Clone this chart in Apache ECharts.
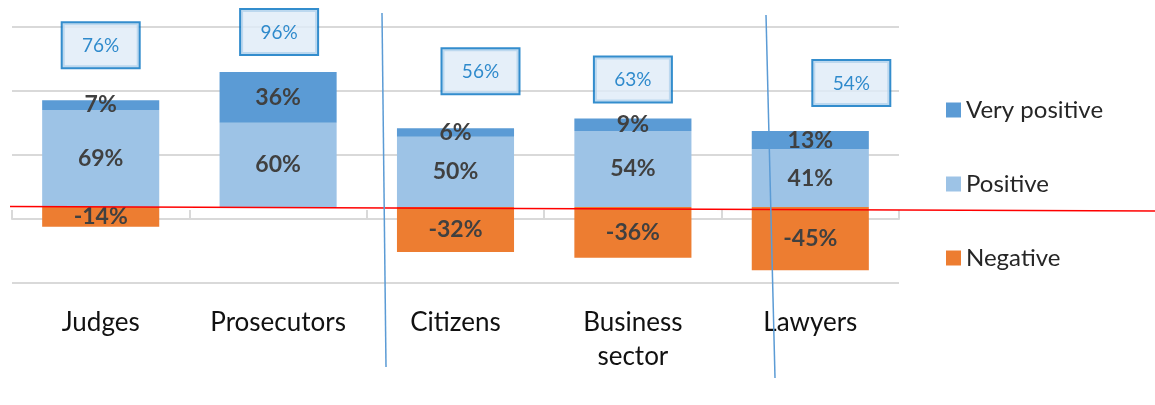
<!DOCTYPE html>
<html>
<head>
<meta charset="utf-8">
<script src="https://cdn.jsdelivr.net/npm/echarts@6/dist/echarts.min.js"></script>
<style>
  html, body { margin: 0; padding: 0; background: #fff; }
  #chart { width: 1155px; height: 405px; }
</style>
</head>
<body>
<div id="chart"></div>
<script>
// categories and values
var categories = ['Judges', 'Prosecutors', 'Citizens', 'Business\nsector', 'Lawyers'];
var veryPositive = [7, 36, 6, 9, 13];
var positive = [69, 60, 50, 54, 41];
var negative = [-14, 0, -32, -36, -45];
var totals = positive.map((v, i) => v + veryPositive[i]);

// where each boxed total sits relative to its bar top (hand-placed in the original)
var boxOffsets = [[0, -33], [1, -18], [25, -35], [0, -17], [41, -26]];

var FONT = 'Lato';
var chart = echarts.init(document.getElementById('chart'), null, { renderer: 'canvas' });

var barLabel = {
  show: true,
  position: 'inside',
  formatter: p => p.value === 0 ? '' : p.value + '%',
  fontFamily: FONT,
  fontSize: 23,
  fontWeight: 'bold',
  color: '#404040'
};

var option = {
  animation: false,
  grid: { left: 12, right: 256, top: 27, bottom: 122, containLabel: false, outerBoundsMode: 'none' },
  legend: {
    data: ['Very positive', 'Positive', 'Negative'],
    orient: 'vertical',
    left: 941,
    top: 93,
    icon: 'rect',
    itemWidth: 15,
    itemHeight: 15,
    itemGap: 50,
    textStyle: { fontFamily: FONT, fontSize: 24, color: '#262626' }
  },
  xAxis: {
    type: 'category',
    data: categories,
    axisLine: { onZero: true, onZeroAxisIndex: 1, lineStyle: { color: '#D9D9D9', width: 2 } },
    axisTick: { show: true, inside: true, length: 9, lineStyle: { color: '#D9D9D9', width: 2 } },
    axisLabel: {
      margin: 23,
      fontFamily: FONT,
      fontSize: 26,
      lineHeight: 34,
      color: '#111'
    }
  },
  yAxis: [
    { type: 'value', min: -54, max: 128, show: false, splitLine: { show: false } },
    {
      type: 'value', min: -1, max: 3, interval: 1, position: 'left',
      axisLabel: { show: false }, axisLine: { show: false }, axisTick: { show: false },
      splitLine: { show: true, lineStyle: { color: '#D9D9D9', width: 2 } }
    }
  ],
  series: [
    {
      name: 'Negative', type: 'bar', stack: 'tot', data: negative,
      barWidth: '66%', itemStyle: { color: '#ED7D31' }, label: barLabel
    },
    {
      name: 'Positive', type: 'bar', stack: 'tot', data: positive,
      barWidth: '66%', itemStyle: { color: '#9DC3E6' }, label: barLabel
    },
    {
      name: 'Very positive', type: 'bar', stack: 'tot', data: veryPositive,
      barWidth: '66%', itemStyle: { color: '#5B9BD5' }, label: barLabel
    },
    {
      name: 'Total', type: 'scatter', symbolSize: 0, z: 5, silent: true,
      data: totals.map((v, i) => ({ value: v, label: { offset: boxOffsets[i] } })),
      label: {
        show: true,
        position: 'top',
        distance: 0,
        formatter: '{c}%',
        fontFamily: FONT,
        fontSize: 19,
        lineHeight: 19,
        color: '#0070C0',
        backgroundColor: '#DEEBF7',
        borderColor: '#0070C0',
        borderWidth: 2,
        width: 76,
        align: 'center',
        padding: [13, 0, 12, 0],
        textBorderWidth: 0
      }
    }
  ],
  graphic: [
    { type: 'line', z: 100, shape: { x1: 10, y1: 206.5, x2: 1155, y2: 211 }, style: { stroke: '#FF0000', lineWidth: 1.5 } },
    { type: 'line', z: 100, shape: { x1: 382, y1: 13, x2: 386, y2: 367 }, style: { stroke: '#5B9BD5', lineWidth: 1.5 } },
    { type: 'line', z: 100, shape: { x1: 766, y1: 15, x2: 775, y2: 378 }, style: { stroke: '#5B9BD5', lineWidth: 1.5 } }
  ]
};

chart.setOption(option);
</script>
</body>
</html>
